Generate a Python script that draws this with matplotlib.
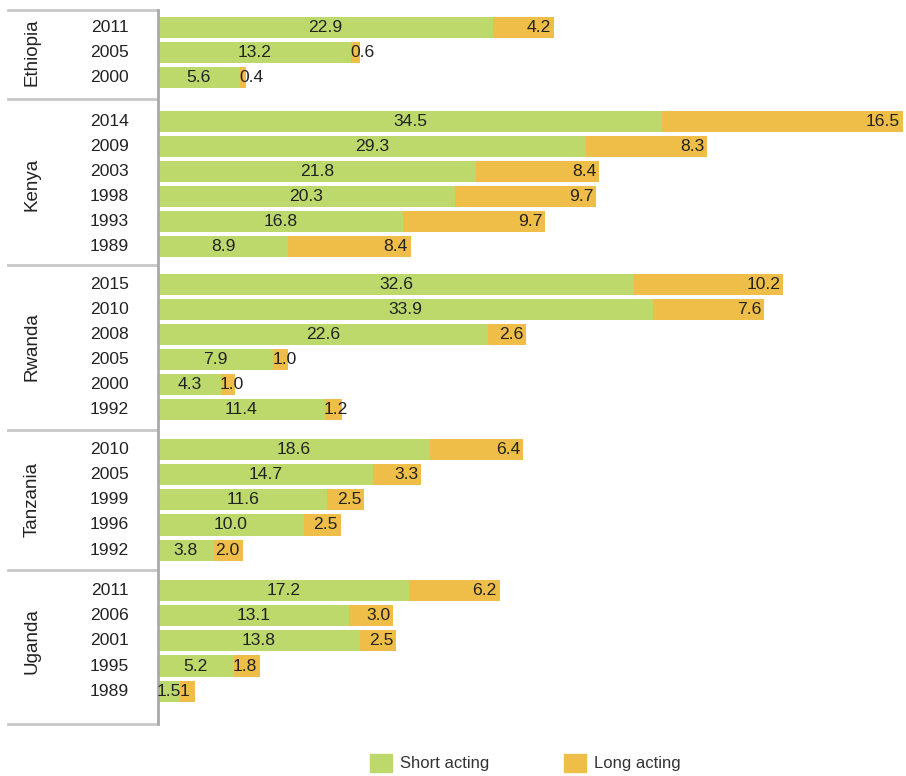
import matplotlib
matplotlib.use("Agg")
import matplotlib.pyplot as plt
import matplotlib.transforms as mtransforms
from matplotlib.patches import Patch
from matplotlib.lines import Line2D

plt.rcParams['font.family'] = ['Liberation Sans', 'DejaVu Sans']

countries = ['Ethiopia', 'Kenya', 'Rwanda', 'Tanzania', 'Uganda']
years = [
    ['2011', '2005', '2000'],
    ['2014', '2009', '2003', '1998', '1993', '1989'],
    ['2015', '2010', '2008', '2005', '2000', '1992'],
    ['2010', '2005', '1999', '1996', '1992'],
    ['2011', '2006', '2001', '1995', '1989'],
]
short_acting = [
    [22.9, 13.2, 5.6],
    [34.5, 29.3, 21.8, 20.3, 16.8, 8.9],
    [32.6, 33.9, 22.6, 7.9, 4.3, 11.4],
    [18.6, 14.7, 11.6, 10.0, 3.8],
    [17.2, 13.1, 13.8, 5.2, 1.5],
]
long_acting = [
    [4.2, 0.6, 0.4],
    [16.5, 8.3, 8.4, 9.7, 9.7, 8.4],
    [10.2, 7.6, 2.6, 1.0, 1.0, 1.2],
    [6.4, 3.3, 2.5, 2.5, 2.0],
    [6.2, 3.0, 2.5, 1.8, 1.0],
]
long_labels = [
    ['4.2', '0.6', '0.4'],
    ['16.5', '8.3', '8.4', '9.7', '9.7', '8.4'],
    ['10.2', '7.6', '2.6', '1.0', '1.0', '1.2'],
    ['6.4', '3.3', '2.5', '2.5', '2.0'],
    ['6.2', '3.0', '2.5', '1.8', '1'],
]

GREEN = '#bdd96c'
ORANGE = '#eebe48'
TXT = '#222222'
GAPS = [0.76, 0.48, 0.6, 0.62]  # extra space after each country block

W, H = 906, 776
fig = plt.figure(figsize=(W / 100, H / 100), dpi=100)
ax = fig.add_axes([158 / W, 1 - 724 / H, 748 / W, 714 / H])

# row positions, groups separated by a gap
pos = []
y = 0.0
for gi, ys in enumerate(years):
    row = []
    for _ in ys:
        row.append(y)
        y += 1
    pos.append(row)
    if gi < len(GAPS):
        y += GAPS[gi]

top = -0.68
bottom = pos[-1][-1] + 1.31
ax.set_ylim(bottom, top)
ax.set_xlim(0, 51.2)

for gi in range(len(countries)):
    for ri, yy in enumerate(pos[gi]):
        s = short_acting[gi][ri]
        l = long_acting[gi][ri]
        ax.barh(yy, s, height=0.84, color=GREEN, linewidth=0)
        ax.barh(yy, l, left=s, height=0.84, color=ORANGE, linewidth=0)
        ax.text(s / 2, yy, f'{s:.1f}', ha='center', va='center',
                fontsize=12.6, color=TXT)
        if l >= 1.7:
            ax.text(s + l - 0.2, yy, long_labels[gi][ri], ha='right',
                    va='center', fontsize=12.6, color=TXT)
        else:
            ax.text(s - 0.05, yy, long_labels[gi][ri], ha='left',
                    va='center', fontsize=12.6, color=TXT)

for side in ['top', 'right', 'bottom']:
    ax.spines[side].set_visible(False)
ax.spines['left'].set_color('#a9a9a9')
ax.spines['left'].set_linewidth(2)
ax.set_xticks([])
ax.set_yticks([])

trans = mtransforms.blended_transform_factory(fig.transFigure, ax.transData)
seps = [top]
for gi in range(len(countries) - 1):
    seps.append((pos[gi][-1] + pos[gi + 1][0]) / 2)
seps.append(bottom)
for sy in seps:
    ax.add_line(Line2D([8 / W, 157 / W], [sy, sy], transform=trans,
                       color='#c8c8c8', linewidth=2, clip_on=False))

for gi, c in enumerate(countries):
    mid = (pos[gi][0] + pos[gi][-1]) / 2
    ax.text(32 / W, mid, c, transform=trans, rotation=90, ha='center',
            va='center', fontsize=13.5, color=TXT)
    for ri, yr in enumerate(years[gi]):
        ax.text(129 / W, pos[gi][ri], yr, transform=trans, ha='right',
                va='center', fontsize=12.6, color=TXT)

handles = [Patch(color=GREEN, label='Short acting'),
           Patch(color=ORANGE, label='Long acting')]
fig.legend(handles=handles, loc='lower left', bbox_to_anchor=(370 / W, 4 / H),
           ncol=2, frameon=False, fontsize=12, handlelength=1.32,
           handleheight=1.32, handletextpad=0.48, columnspacing=4.5,
           borderpad=0, borderaxespad=0, labelcolor='#333333')

fig.savefig('out.png', dpi=100)
